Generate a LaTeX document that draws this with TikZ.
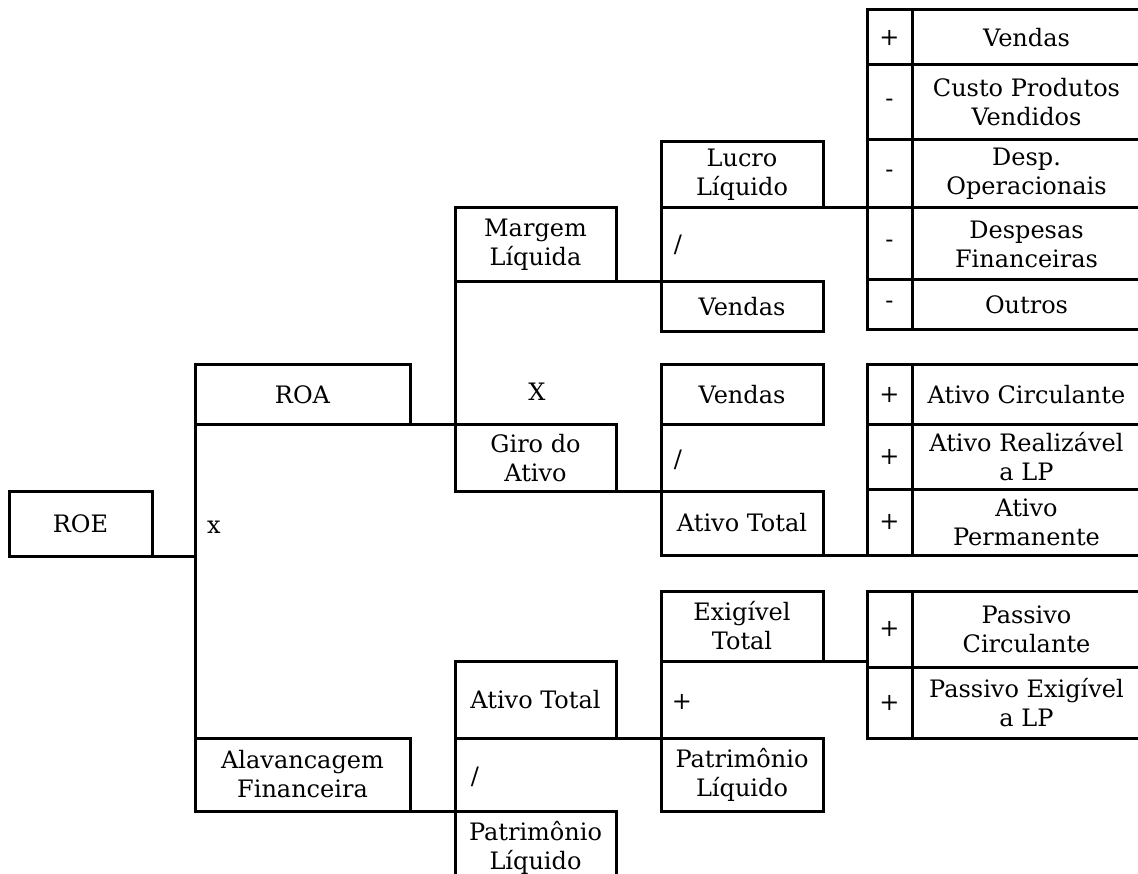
\documentclass[tikz,border=0pt]{standalone}
\usepackage{fontspec}
\setmainfont{DejaVu Serif}
\begin{document}
\begin{tikzpicture}[x=1pt,y=-1pt,
  cell/.style={draw, line width=3pt, inner sep=0pt, outer sep=0pt, align=center, font=\fontsize{24}{29}\selectfont},
  conn/.style={draw, line width=3pt, line cap=rect},
  lbl/.style={inner sep=0pt, outer sep=0pt, font=\fontsize{24}{29}\selectfont}]
\useasboundingbox (0,0) rectangle (1138,874);
\clip (0,0) rectangle (1138,874);
% left column
\node[cell, minimum width=143, minimum height=65] (roe) at (80.5,523.5) {ROE};
\node[cell, minimum width=215, minimum height=60] (roa) at (302.5,395) {ROA};
\node[cell, minimum width=215, minimum height=73] (alav) at (302.5,774.5) {Alavancagem\\Financeira};
% second column
\node[cell, minimum width=161, minimum height=74] (margem) at (535.5,245) {Margem\\Líquida};
\node[cell, minimum width=161, minimum height=66] (giro) at (535.5,458) {Giro do\\Ativo};
\node[cell, minimum width=161, minimum height=77] (ativot2) at (535.5,699.5) {Ativo Total};
\node[cell, minimum width=161, minimum height=73] (patr2) at (535.5,847.5) {Patrimônio\\Líquido};
% third column
\node[cell, minimum width=162, minimum height=66] (lucro) at (742,175) {Lucro\\Líquido};
\node[cell, minimum width=162, minimum height=50] (vendas1) at (742,307) {Vendas};
\node[cell, minimum width=162, minimum height=60] (vendas2) at (742,395) {Vendas};
\node[cell, minimum width=162, minimum height=64] (ativot1) at (742,523) {Ativo Total};
\node[cell, minimum width=162, minimum height=70] (exig) at (742,626) {Exigível\\Total};
\node[cell, minimum width=162, minimum height=73] (patr1) at (742,774.5) {Patrimônio\\Líquido};
% table 1
\node[cell, minimum width=45, minimum height=55] (t1s1) at (889.5,37.5) {+};
\node[cell, minimum width=229, minimum height=55] (t1c1) at (1026.5,37.5) {Vendas};
\node[cell, minimum width=45, minimum height=75] (t1s2) at (889.5,102.5) {-};
\node[cell, minimum width=229, minimum height=75] (t1c2) at (1026.5,102.5) {Custo Produtos\\Vendidos};
\node[cell, minimum width=45, minimum height=68] (t1s3) at (889.5,174) {-};
\node[cell, minimum width=229, minimum height=68] (t1c3) at (1026.5,174) {Desp.\\Operacionais};
\node[cell, minimum width=45, minimum height=72] (t1s4) at (889.5,244) {-};
\node[cell, minimum width=229, minimum height=72] (t1c4) at (1026.5,244) {Despesas\\Financeiras};
\node[cell, minimum width=45, minimum height=50] (t1s5) at (889.5,305) {-};
\node[cell, minimum width=229, minimum height=50] (t1c5) at (1026.5,305) {Outros};
% table 2
\node[cell, minimum width=45, minimum height=60] (t2s1) at (889.5,395) {+};
\node[cell, minimum width=229, minimum height=60] (t2c1) at (1026.5,395) {Ativo Circulante};
\node[cell, minimum width=45, minimum height=64] (t2s2) at (889.5,457) {+};
\node[cell, minimum width=229, minimum height=64] (t2c2) at (1026.5,457) {Ativo Realizável\\a LP};
\node[cell, minimum width=45, minimum height=66] (t2s3) at (889.5,522) {+};
\node[cell, minimum width=229, minimum height=66] (t2c3) at (1026.5,522) {Ativo\\Permanente};
% table 3
\node[cell, minimum width=45, minimum height=76] (t3s1) at (889.5,629) {+};
\node[cell, minimum width=229, minimum height=76] (t3c1) at (1026.5,629) {Passivo\\Circulante};
\node[cell, minimum width=45, minimum height=71] (t3s2) at (889.5,702.5) {+};
\node[cell, minimum width=229, minimum height=71] (t3c2) at (1026.5,702.5) {Passivo Exigível\\a LP};
% operator labels
\node[lbl] (opx) at (214,527) {x};
\node[lbl] (opX) at (537,392) {X};
\node[lbl] (div1) at (678,245) {/};
\node[lbl] (div2) at (678,460) {/};
\node[lbl] (div3) at (475,777) {/};
\node[lbl] (plus) at (682,702) {+};
% connectors
\draw[conn] (roa.south west) -- (alav.north west);
\draw[conn] (roe.south east) -- (roe.south east -| roa.west);
\draw[conn] (roa.south east) -- (giro.north west);
\draw[conn] (margem.south west) -- (giro.north west);
\draw[conn] (margem.south east) -- (vendas1.north west);
\draw[conn] (lucro.south west) -- (vendas1.north west);
\draw[conn] (lucro.south east) -- (t1s4.north west);
\draw[conn] (giro.south east) -- (ativot1.north west);
\draw[conn] (vendas2.south west) -- (ativot1.north west);
\draw[conn] (ativot1.south east) -- (t2s3.south west);
\draw[conn] (alav.south east) -- (patr2.north west);
\draw[conn] (ativot2.south west) -- (patr2.north west);
\draw[conn] (ativot2.south east) -- (patr1.north west);
\draw[conn] (exig.south west) -- (patr1.north west);
\draw[conn] (exig.south east) -- (exig.south east -| t3s1.west);
\end{tikzpicture}
\end{document}
